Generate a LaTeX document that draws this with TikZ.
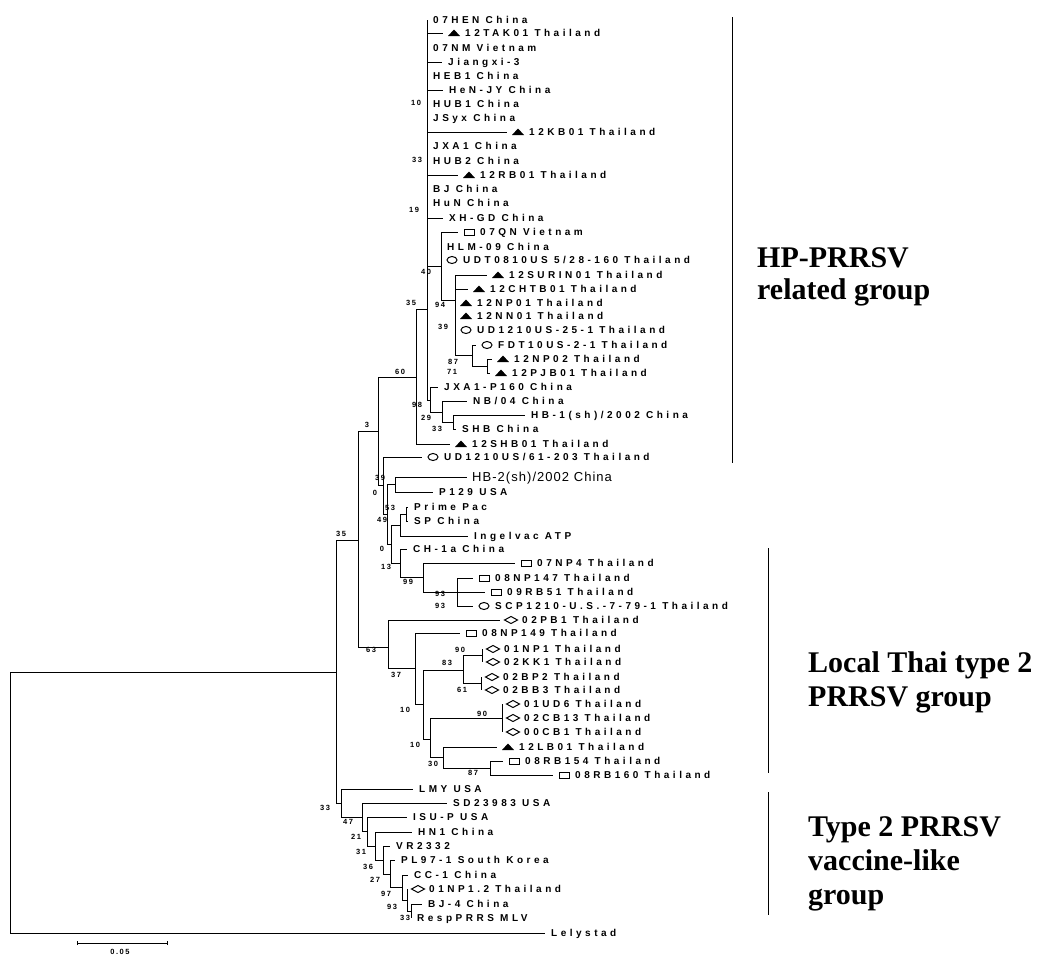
\documentclass[tikz,border=0pt]{standalone}
\usepackage{fontspec}
\newfontfamily\leaffont{Liberation Sans}[LetterSpace=35]
\newfontfamily\bigleaffont{Liberation Sans}[LetterSpace=8]
\newfontfamily\bsfont{Liberation Sans}[LetterSpace=20]
\newfontfamily\grpfont{Liberation Serif}
\tikzset{
  br/.style={line width=0.9pt, line join=miter},
  bar/.style={line width=0.9pt},
  lab/.style={font=\leaffont\bfseries\fontsize{10}{10}\selectfont, inner sep=0pt, text height=7.2pt, text depth=0pt, anchor=west},
  labbig/.style={font=\bigleaffont\fontsize{13}{13}\selectfont, inner sep=0pt, text height=9.3pt, text depth=0pt, anchor=west},
  bs/.style={font=\bsfont\bfseries\fontsize{7.5}{7.5}\selectfont, inner sep=0pt},
  grp/.style={font=\grpfont\bfseries\fontsize{30}{35}\selectfont, inner sep=0pt, anchor=base west},
  tri/.pic={\fill (-6,3) -- (6,3) -- (0,-3.5) -- cycle;},
  box/.pic={\draw[line width=1pt] (-5,-3) rectangle (5,3);},
  oval/.pic={\draw[line width=1pt] (0,0) ellipse [x radius=5, y radius=3.5];},
  dia/.pic={\draw[line width=1pt] (-6.5,0) -- (0,-3.5) -- (6.5,0) -- (0,3.5) -- cycle;}
}
\newcommand{\lf}[4]{\coordinate (#1) at (#2,#3); \node[lab] (#1t) at ([xshift=6pt]#1) {#4};}
\newcommand{\slf}[5]{\coordinate (#1) at (#2,#3); \pic at ([xshift=11pt]#1) {#4}; \node[lab] (#1t) at ([xshift=22pt]#1) {#5};}
\newcommand{\cl}[2]{\foreach \ch in {#2} {\draw[br] (#1) |- (\ch);}}
\begin{document}
\begin{tikzpicture}[x=1pt,y=-1pt]
\fill[white] (0,0) rectangle (1039,962);
\useasboundingbox (0,0) rectangle (1039,962);
% leaves
\lf{L1}{427}{20}{07HEN China}
\slf{L2}{443}{33}{tri}{12TAK01 Thailand}
\lf{L3}{427}{48}{07NM Vietnam}
\lf{L4}{442}{62}{Jiangxi-3}
\lf{L5}{427}{76}{HEB1 China}
\lf{L6}{443}{90}{HeN-JY China}
\lf{L7}{427}{104}{HUB1 China}
\lf{L8}{427}{118}{JSyx China}
\slf{L9}{507}{132}{tri}{12KB01 Thailand}
\lf{L10}{427}{146}{JXA1 China}
\lf{L11}{427}{161}{HUB2 China}
\slf{L12}{458}{175}{tri}{12RB01 Thailand}
\lf{L13}{427}{189}{BJ China}
\lf{L14}{427}{203}{HuN China}
\lf{L15}{443}{218}{XH-GD China}
\slf{L16}{458}{232}{box}{07QN Vietnam}
\lf{L17}{441}{247}{HLM-09 China}
\slf{L18}{441}{260}{oval}{UDT0810US 5/28-160 Thailand}
\slf{L19}{487}{275}{tri}{12SURIN01 Thailand}
\slf{L20}{468}{289}{tri}{12CHTB01 Thailand}
\slf{L21}{455}{303}{tri}{12NP01 Thailand}
\slf{L22}{455}{316}{tri}{12NN01 Thailand}
\slf{L23}{455}{330}{oval}{UD1210US-25-1 Thailand}
\slf{L24}{476}{345}{oval}{FDT10US-2-1 Thailand}
\slf{L25}{492}{359}{tri}{12NP02 Thailand}
\slf{L26}{490}{373}{tri}{12PJB01 Thailand}
\lf{L27}{438}{387}{JXA1-P160 China}
\lf{L28}{467}{401}{NB/04 China}
\lf{L29}{525}{415}{HB-1(sh)/2002 China}
\lf{L30}{456}{429}{SHB China}
\slf{L31}{450}{444}{tri}{12SHB01 Thailand}
\slf{L32}{422}{457}{oval}{UD1210US/61-203 Thailand}
\coordinate (L33) at (467,477); \node[labbig] (L33t) at ([xshift=5pt]L33) {HB-2(sh)/2002 China};
\lf{L34}{433}{492}{P129 USA}
\lf{L35}{408}{507}{Prime Pac}
\lf{L36}{408}{521}{SP China}
\lf{L37}{468}{536}{Ingelvac ATP}
\lf{L38}{407}{549}{CH-1a China}
\slf{L39}{515}{563}{box}{07NP4 Thailand}
\slf{L40}{473}{578}{box}{08NP147 Thailand}
\slf{L41}{485}{592}{box}{09RB51 Thailand}
\slf{L42}{473}{606}{oval}{SCP1210-U.S.-7-79-1 Thailand}
\slf{L43}{500}{620}{dia}{02PB1 Thailand}
\slf{L44}{460}{633}{box}{08NP149 Thailand}
\slf{L45}{482}{649}{dia}{01NP1 Thailand}
\slf{L46}{482}{662}{dia}{02KK1 Thailand}
\slf{L47}{481}{677}{dia}{02BP2 Thailand}
\slf{L48}{481}{690}{dia}{02BB3 Thailand}
\slf{L49}{502}{704}{dia}{01UD6 Thailand}
\slf{L50}{502}{718}{dia}{02CB13 Thailand}
\slf{L51}{502}{732}{dia}{00CB1 Thailand}
\slf{L52}{497}{747}{tri}{12LB01 Thailand}
\slf{L53}{503}{761}{box}{08RB154 Thailand}
\slf{L54}{553}{775}{box}{08RB160 Thailand}
\lf{L55}{413}{789}{LMY USA}
\lf{L56}{447}{803}{SD23983 USA}
\lf{L57}{407}{817}{ISU-P USA}
\lf{L58}{412}{832}{HN1 China}
\lf{L59}{390}{846}{VR2332}
\lf{L60}{395}{860}{PL97-1 South Korea}
\lf{L61}{408}{875}{CC-1 China}
\slf{L62}{407}{889}{dia}{01NP1.2 Thailand}
\lf{L63}{422}{904}{BJ-4 China}
\lf{L64}{411}{918}{RespPRRS MLV}
\lf{L65}{545}{933}{Lelystad}
% internal nodes
\coordinate (R0) at (10,802);
\coordinate (A) at (336,672);
\coordinate (B) at (358,540);
\coordinate (B1) at (378,431);
\coordinate (HPn) at (416,377);
\coordinate (P) at (427,309);
\coordinate (S) at (441,266);
\coordinate (S2) at (455,300);
\coordinate (S3) at (472,355);
\coordinate (S4) at (487,366);
\coordinate (Q) at (430,400);
\coordinate (Q2) at (442,412);
\coordinate (Q3) at (453,422);
\coordinate (N2) at (383,485);
\coordinate (N3) at (387,514);
\coordinate (HBP) at (395,484);
\coordinate (N4) at (391,544);
\coordinate (PSI) at (400,525);
\coordinate (PS) at (406,514);
\coordinate (N5) at (400,563);
\coordinate (X0) at (423,577);
\coordinate (X1) at (457,592);
\coordinate (B2) at (388,647);
\coordinate (B2b) at (415,668);
\coordinate (B2c) at (423,704);
\coordinate (B2d) at (463,670);
\coordinate (B2d1) at (482,655);
\coordinate (B2d2) at (481,683);
\coordinate (B2e) at (430,739);
\coordinate (CB) at (502,718);
\coordinate (B2f) at (443,757);
\coordinate (B2g) at (490,768);
\coordinate (C) at (341,803);
\coordinate (D) at (362,817);
\coordinate (E) at (367,831);
\coordinate (F) at (375,846);
\coordinate (G) at (383,860);
\coordinate (H) at (390,874);
\coordinate (I) at (402,887);
\coordinate (J) at (407,900);
\coordinate (K) at (411,911);
% branches
\cl{R0}{A,L65}
\cl{A}{B,C}
\cl{B}{B1,B2}
\cl{B1}{HPn,N2}
\cl{HPn}{P,L31}
\cl{P}{L1,L2,L3,L4,L5,L6,L7,L8,L9,L10,L11,L12,L13,L14,L15,S,Q}
\cl{S}{L16,L17,L18,S2}
\cl{S2}{L19,L20,L21,L22,L23,S3}
\cl{S3}{L24,S4}
\cl{S4}{L25,L26}
\cl{Q}{L27,Q2}
\cl{Q2}{L28,Q3}
\cl{Q3}{L29,L30}
\cl{N2}{L32,N3}
\cl{N3}{HBP,N4}
\cl{HBP}{L33,L34}
\cl{N4}{PSI,N5}
\cl{PSI}{PS,L37}
\cl{PS}{L35,L36}
\cl{N5}{L38,X0}
\cl{X0}{L39,X1}
\cl{X1}{L40,L41,L42}
\cl{B2}{L43,B2b}
\cl{B2b}{L44,B2c}
\cl{B2c}{B2d,B2e}
\cl{B2d}{B2d1,B2d2}
\cl{B2d1}{L45,L46}
\cl{B2d2}{L47,L48}
\cl{B2e}{CB,B2f}
\cl{CB}{L49,L50,L51}
\cl{B2f}{L52,B2g}
\cl{B2g}{L53,L54}
\cl{C}{L55,D}
\cl{D}{L56,E}
\cl{E}{L57,F}
\cl{F}{L58,G}
\cl{G}{L59,H}
\cl{H}{L60,I}
\cl{I}{L61,J}
\cl{J}{L62,K}
\cl{K}{L63,L64}
% bootstrap values
\foreach \x/\y/\t [count=\i] in {416/103/10, 417/160/33, 414/210/19, 426/272/40, 411/303/35, 440/305/94, 443/327/39, 453/362/87, 452/372/71, 417/405/98, 426/418/29, 437/429/33, 400/372/60, 367/425/3, 380/478/39, 375/493/0, 390/508/53, 382/520/49, 382/549/0, 386/567/13, 341/534/35, 408/582/99, 440/594/93, 440/606/93, 371/650/63, 460/650/90, 447/663/83, 396/675/37, 462/690/61, 405/710/10, 482/714/90, 415/745/10, 433/764/30, 473/773/87, 325/808/33, 348/822/47, 356/837/21, 361/852/31, 368/867/36, 375/880/27, 386/894/97, 392/907/93, 405/918/33}
  {\node[bs] (bs\i) at (\x,\y) {\t};}
% scale bar
\coordinate (sb1) at (77,943);
\coordinate (sb2) at (167,943);
\draw[br] (sb1) -- (sb2);
\draw[br] ([yshift=-2pt]sb1) -- ([yshift=2pt]sb1);
\draw[br] ([yshift=-2pt]sb2) -- ([yshift=2pt]sb2);
\node[bs] (sbt) at (120,952) {0.05};
% group bars and labels
\coordinate (g1a) at (732,17); \coordinate (g1b) at (732,463);
\draw[bar] (g1a) -- (g1b);
\node[grp] (g1t1) at (757,267) {HP-PRRSV};
\node[grp] (g1t2) at (757,299) {related group};
\coordinate (g2a) at (768,548); \coordinate (g2b) at (768,773);
\draw[bar] (g2a) -- (g2b);
\node[grp] (g2t1) at (808,672) {Local Thai type 2};
\node[grp] (g2t2) at (808,706) {PRRSV group};
\coordinate (g3a) at (768,792); \coordinate (g3b) at (768,915);
\draw[bar] (g3a) -- (g3b);
\node[grp] (g3t1) at (808,836) {Type 2 PRRSV};
\node[grp] (g3t2) at (808,870) {vaccine-like};
\node[grp] (g3t3) at (808,904) {group};
\end{tikzpicture}
\end{document}
